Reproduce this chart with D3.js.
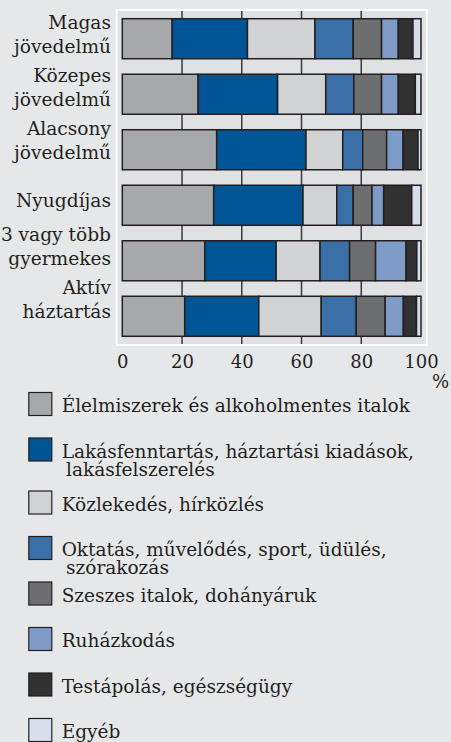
<!DOCTYPE html>
<html>
<head>
<meta charset="utf-8">
<script src="https://cdn.jsdelivr.net/npm/d3@7"></script>
<style>
  body { margin: 0; background: #e6e7e8; }
  svg { display: block; }
  text { font-family: "DejaVu Serif", serif; fill: #231f20; }
</style>
</head>
<body>
<div id="chart"></div>
<script>
// household groups (top to bottom)
const categories = [
    "Magas\njövedelmű",
    "Közepes\njövedelmű",
    "Alacsony\njövedelmű",
    "Nyugdíjas",
    "3 vagy több\ngyermekes",
    "Aktív\nháztartás"
];
const seriesNames = [
    "Élelmiszerek és alkoholmentes italok",
    "Lakásfenntartás, háztartási kiadások,\nlakásfelszerelés",
    "Közlekedés, hírközlés",
    "Oktatás, művelődés, sport, üdülés,\nszórakozás",
    "Szeszes italok, dohányáruk",
    "Ruházkodás",
    "Testápolás, egészségügy",
    "Egyéb"
];
const seriesColors = ["#a7a8aa", "#005596", "#d1d2d4", "#3a6fa8", "#6d6e70", "#7f9bc8", "#313132", "#d6deee"];
const tickValues = [0, 20, 40, 60, 80, 100];

// shares in %, one value per category
const elelmiszer = [16.7, 25.4, 31.6, 30.6, 27.6, 20.9];
const lakas      = [25.2, 26.6, 29.9, 29.9, 23.9, 24.8];
const kozlekedes = [22.6, 16.1, 12.3, 11.3, 14.7, 20.9];
const oktatas    = [12.8,  9.4,  6.7,  5.5,  9.9, 11.7];
const szeszes    = [ 9.5,  9.3,  8.0,  6.3,  8.7,  9.7];
const ruhazkodas = [ 5.6,  5.6,  5.5,  3.9, 10.2,  6.1];
const testapolas = [ 4.9,  5.7,  5.0,  9.4,  3.6,  4.4];
const egyeb      = [ 2.7,  1.9,  1.0,  3.1,  1.4,  1.5];

const seriesValues = [elelmiszer, lakas, kozlekedes, oktatas, szeszes, ruhazkodas, testapolas, egyeb];

const W = 451, H = 742;
const svg = d3.select("#chart").append("svg")
    .attr("width", W)
    .attr("height", H);

const rows = categories.map((c, i) => {
    const r = { cat: c };
    seriesNames.forEach((s, j) => r[s] = seriesValues[j][i]);
    return r;
});
const stacked = d3.stack().keys(seriesNames)(rows);

const x = d3.scaleLinear().domain([0, 100]).range([122.3, 421]);
const y = d3.scaleBand()
    .domain(categories)
    .range([10, 345])
    .paddingInner(0.279)
    .paddingOuter(0.157);
// labels in the original sit on a slightly tighter pitch than the bars
const yLabel = d3.scalePoint().domain(categories).range([40.7, 305.8]);
const color = d3.scaleOrdinal().domain(seriesNames).range(seriesColors);

// plot panel
svg.append("rect")
    .attr("x", 116.7).attr("y", 10)
    .attr("width", 310).attr("height", 335)
    .attr("fill", "#e0e1e2")
    .attr("stroke", "#ffffff")
    .attr("stroke-width", 2);

// grid lines
svg.append("g")
    .selectAll("line")
    .data(tickValues.slice(1, -1))
    .join("line")
    .attr("x1", d => x(d)).attr("x2", d => x(d))
    .attr("y1", 11).attr("y2", 344)
    .attr("stroke", "#3a3a3a")
    .attr("stroke-width", 1.5);

// bars
svg.append("g")
    .selectAll("g")
    .data(stacked)
    .join("g")
    .attr("fill", d => color(d.key))
    .selectAll("rect")
    .data(d => d)
    .join("rect")
    .attr("x", d => x(d[0]))
    .attr("width", d => x(d[1]) - x(d[0]))
    .attr("y", d => y(d.data.cat))
    .attr("height", y.bandwidth())
    .attr("stroke", "#231f20")
    .attr("stroke-width", 1.5);

// category labels
const lab = svg.append("g")
    .attr("font-size", 18.6)
    .attr("text-anchor", "end");
categories.forEach(c => {
    const lines = c.split("\n");
    const c0 = yLabel(c);
    lines.forEach((t, k) => {
        const yy = lines.length === 1 ? c0 + 7.5 : c0 - 12 + k * 24;
        lab.append("text").attr("x", 111).attr("y", yy).text(t);
    });
});

// x axis labels
const xAxis = svg.append("g")
    .attr("transform", "translate(0,368)")
    .call(d3.axisBottom(x).tickValues(tickValues).tickSize(0).tickPadding(0));
xAxis.select(".domain").remove();
xAxis.selectAll("text")
    .attr("dy", 0)
    .attr("font-size", 18)
    .attr("font-family", "DejaVu Serif, serif")
    .attr("fill", "#231f20");

svg.append("text")
    .attr("x", 440.5).attr("y", 387.5)
    .attr("text-anchor", "middle")
    .attr("font-size", 18)
    .text("%");

// legend
const legendY = i => 392.5 + i * 45.5 + (i > 1 ? 7.5 : 0);
const leg = svg.append("g").attr("font-size", 18.5);
seriesNames.forEach((s, i) => {
    const top = legendY(i);
    leg.append("rect")
        .attr("x", 28.8).attr("y", top)
        .attr("width", 23).attr("height", 23)
        .attr("fill", color(s))
        .attr("stroke", "#231f20")
        .attr("stroke-width", 1.2);
    s.split("\n").forEach((t, k) => {
        leg.append("text")
            .attr("x", k === 0 ? 61.7 : 66)
            .attr("y", top + 19.5 + k * 18)
            .text(t);
    });
});
</script>
</body>
</html>
